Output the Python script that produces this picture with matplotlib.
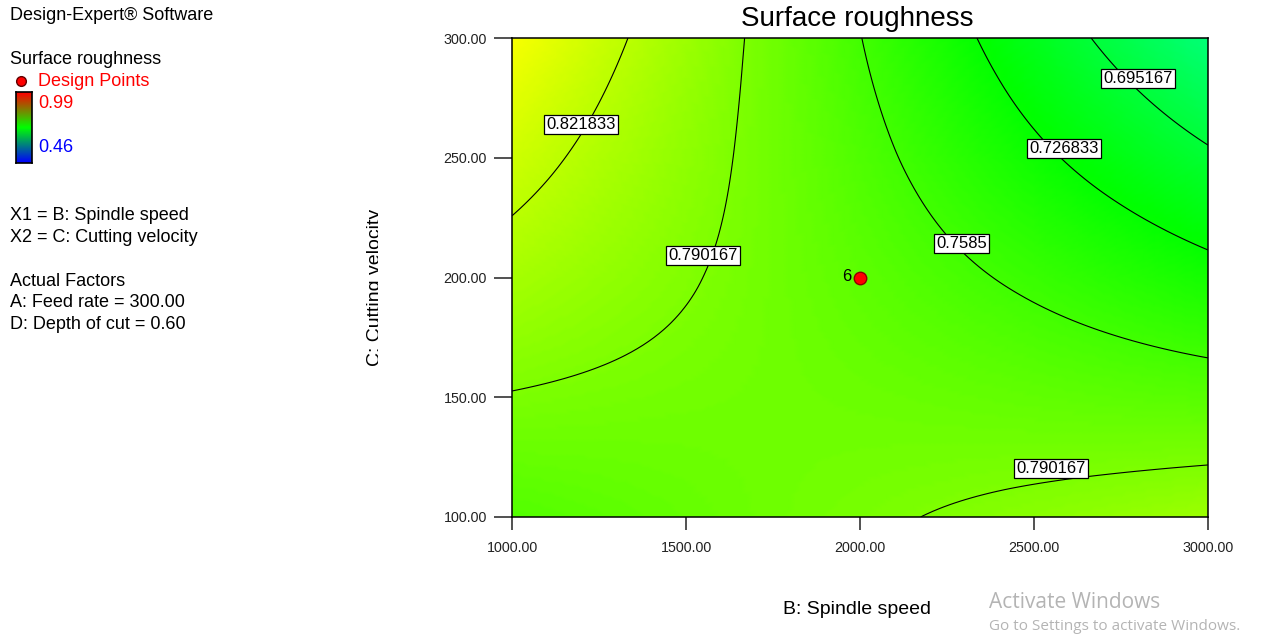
import matplotlib
matplotlib.use("Agg")

import matplotlib.pyplot as plt
import matplotlib.tri as mtri
import numpy as np
from matplotlib.colors import LinearSegmentedColormap
from matplotlib.lines import Line2D
from matplotlib.patches import Rectangle


# surface roughness
# rows = cutting velocity, columns = spindle speed
spindle_speed = [1000, 1500, 2000, 2500, 3000]
cutting_velocity = [100, 150, 200, 250, 300]
roughness = [
    [0.767, 0.777, 0.787, 0.796, 0.806],
    [0.789, 0.784, 0.780, 0.775, 0.770],
    [0.811, 0.792, 0.773, 0.754, 0.735],
    [0.832, 0.799, 0.766, 0.732, 0.699],
    [0.854, 0.806, 0.759, 0.711, 0.663],
]
contour_levels = [0.695167, 0.726833, 0.7585, 0.790167, 0.821833]

design_b = [2000]
design_c = [200]
design_runs = ["6"]

range_low = 0.46
range_high = 0.99

x_ticks = [1000, 1500, 2000, 2500, 3000]
y_ticks = [100, 150, 200, 250, 300]

info_lines = [
    (215, "X1 = B: Spindle speed"),
    (237, "X2 = C: Cutting velocity"),
    (281, "Actual Factors"),
    (303, "A: Feed rate = 300.00"),
    (325, "D: Depth of cut = 0.60"),
]

plt.rcParams["font.family"] = ["Liberation Sans", "DejaVu Sans"]

W, H = 1261, 641
fig = plt.figure(figsize=(W / 100, H / 100), dpi=100)


def fx(px):
    return px / W


def fy(py):
    return 1 - py / H


ax = fig.add_axes([fx(512), fy(517), fx(1208) - fx(512), fy(38) - fy(517)])

surface_cmap = LinearSegmentedColormap.from_list(
    "de_surface", ["#0000ff", "#00ffff", "#00ff00", "#ffff00", "#ff0000"]
)
legend_cmap = LinearSegmentedColormap.from_list(
    "de_legend", ["#0000ff", "#00ff00", "#ff0000"]
)

# triangulate in coded units so the smoothing is not skewed by axis scales
B, C = np.meshgrid(spindle_speed, cutting_velocity)
Z = np.asarray(roughness, dtype=float)
u = (B.ravel() - 2000) / 1000
v = (C.ravel() - 200) / 100
tri_coded = mtri.Triangulation(u, v)
interp = mtri.CubicTriInterpolator(tri_coded, Z.ravel(), kind="min_E")
refiner = mtri.UniformTriRefiner(tri_coded)
tri_fine, z_fine = refiner.refine_field(Z.ravel(), triinterpolator=interp, subdiv=5)
tri_data = mtri.Triangulation(
    tri_fine.x * 1000 + 2000, tri_fine.y * 100 + 200, tri_fine.triangles
)

ax.tripcolor(tri_data, z_fine, cmap=surface_cmap, vmin=range_low,
             vmax=range_high, shading="gouraud", rasterized=True)
ax.tricontour(tri_data, z_fine, levels=contour_levels,
              colors="black", linewidths=0.8)

# boxed contour labels, placed where Design-Expert put them
label_spots = [
    (1198, 263.8, 4),
    (1549, 209.0, 3),
    (2292, 214.0, 2),
    (2586, 253.7, 1),
    (2799, 282.9, 0),
    (2549, 120.2, 3),
]
for lx, ly, idx in label_spots:
    ax.text(lx, ly, f"{contour_levels[idx]:g}", ha="center", va="center",
            fontsize=12, zorder=4,
            bbox=dict(boxstyle="square,pad=0.12", facecolor="white",
                      edgecolor="black", linewidth=0.9))

ax.plot(design_b, design_c, "o", color="#ff0000", markeredgecolor="#900000",
        markersize=9, zorder=5)
for b, c, run in zip(design_b, design_c, design_runs):
    ax.annotate(run, (b, c), xytext=(-6, 1), textcoords="offset points",
                ha="right", va="center", fontsize=12, zorder=6)

ax.set_xlim(1000, 3000)
ax.set_ylim(100, 300)
ax.set_xticks(x_ticks)
ax.set_xticklabels([f"{t:.2f}" for t in x_ticks])
ax.set_yticks(y_ticks)
ax.set_yticklabels([f"{t:.2f}" for t in y_ticks])
ax.tick_params(axis="x", direction="out", length=9, width=1.1, pad=8,
               labelsize=10.3, colors="#222222")
ax.tick_params(axis="y", direction="out", length=13, width=1.1, pad=5,
               labelsize=10.3, colors="#222222")
for side in ax.spines.values():
    side.set_linewidth(1.1)

fig.text(fx(857), fy(19), "Surface roughness", ha="center", va="center",
         fontsize=20)
fig.text(fx(857), fy(609), "B: Spindle speed", ha="center", va="center",
         fontsize=14)
ylab = fig.text(fx(376), fy(287), "C: Cutting velocity", ha="center",
                va="center", rotation=90, fontsize=14)
# the original axis title is cut off just past its baseline
ylab.set_clip_path(Rectangle((0, 0), fx(378), 1, transform=fig.transFigure))

# left-hand info panel
fig.text(fx(10), fy(15), "Design-Expert\u00ae Software", ha="left",
         va="center", fontsize=13)
fig.text(fx(10), fy(60), "Surface roughness", ha="left", va="center",
         fontsize=13)
fig.add_artist(Line2D([fx(21)], [fy(81)], marker="o", color="#ff0000",
                      markeredgecolor="#600000", markersize=7,
                      transform=fig.transFigure))
fig.text(fx(38), fy(81), "Design Points", ha="left", va="center",
         fontsize=13, color="#ff0000")
fig.text(fx(38), fy(103), f"{range_high:.2f}", ha="left", va="center",
         fontsize=13, color="#ff0000")
fig.text(fx(38), fy(148), f"{range_low:.2f}", ha="left", va="center",
         fontsize=13, color="#0000ff")

cbar_ax = fig.add_axes([fx(16), fy(163), fx(32) - fx(16), fy(92) - fy(163)])
gradient = np.linspace(0, 1, 100).reshape(-1, 1)
cbar_ax.imshow(gradient, aspect="auto", cmap=legend_cmap, origin="lower")
cbar_ax.set_xticks([])
cbar_ax.set_yticks([])
for side in cbar_ax.spines.values():
    side.set_linewidth(1.2)

for py, line in info_lines:
    fig.text(fx(10), fy(py), line, ha="left", va="center", fontsize=13)

fig.text(fx(989), fy(602), "Activate Windows", ha="left", va="center",
         fontsize=15, color="#b4b4b4", family=["Open Sans", "DejaVu Sans"])
fig.text(fx(989), fy(627), "Go to Settings to activate Windows.", ha="left",
         va="center", fontsize=11, color="#b4b4b4",
         family=["Open Sans", "DejaVu Sans"])

fig.savefig("out.png", dpi=100)
